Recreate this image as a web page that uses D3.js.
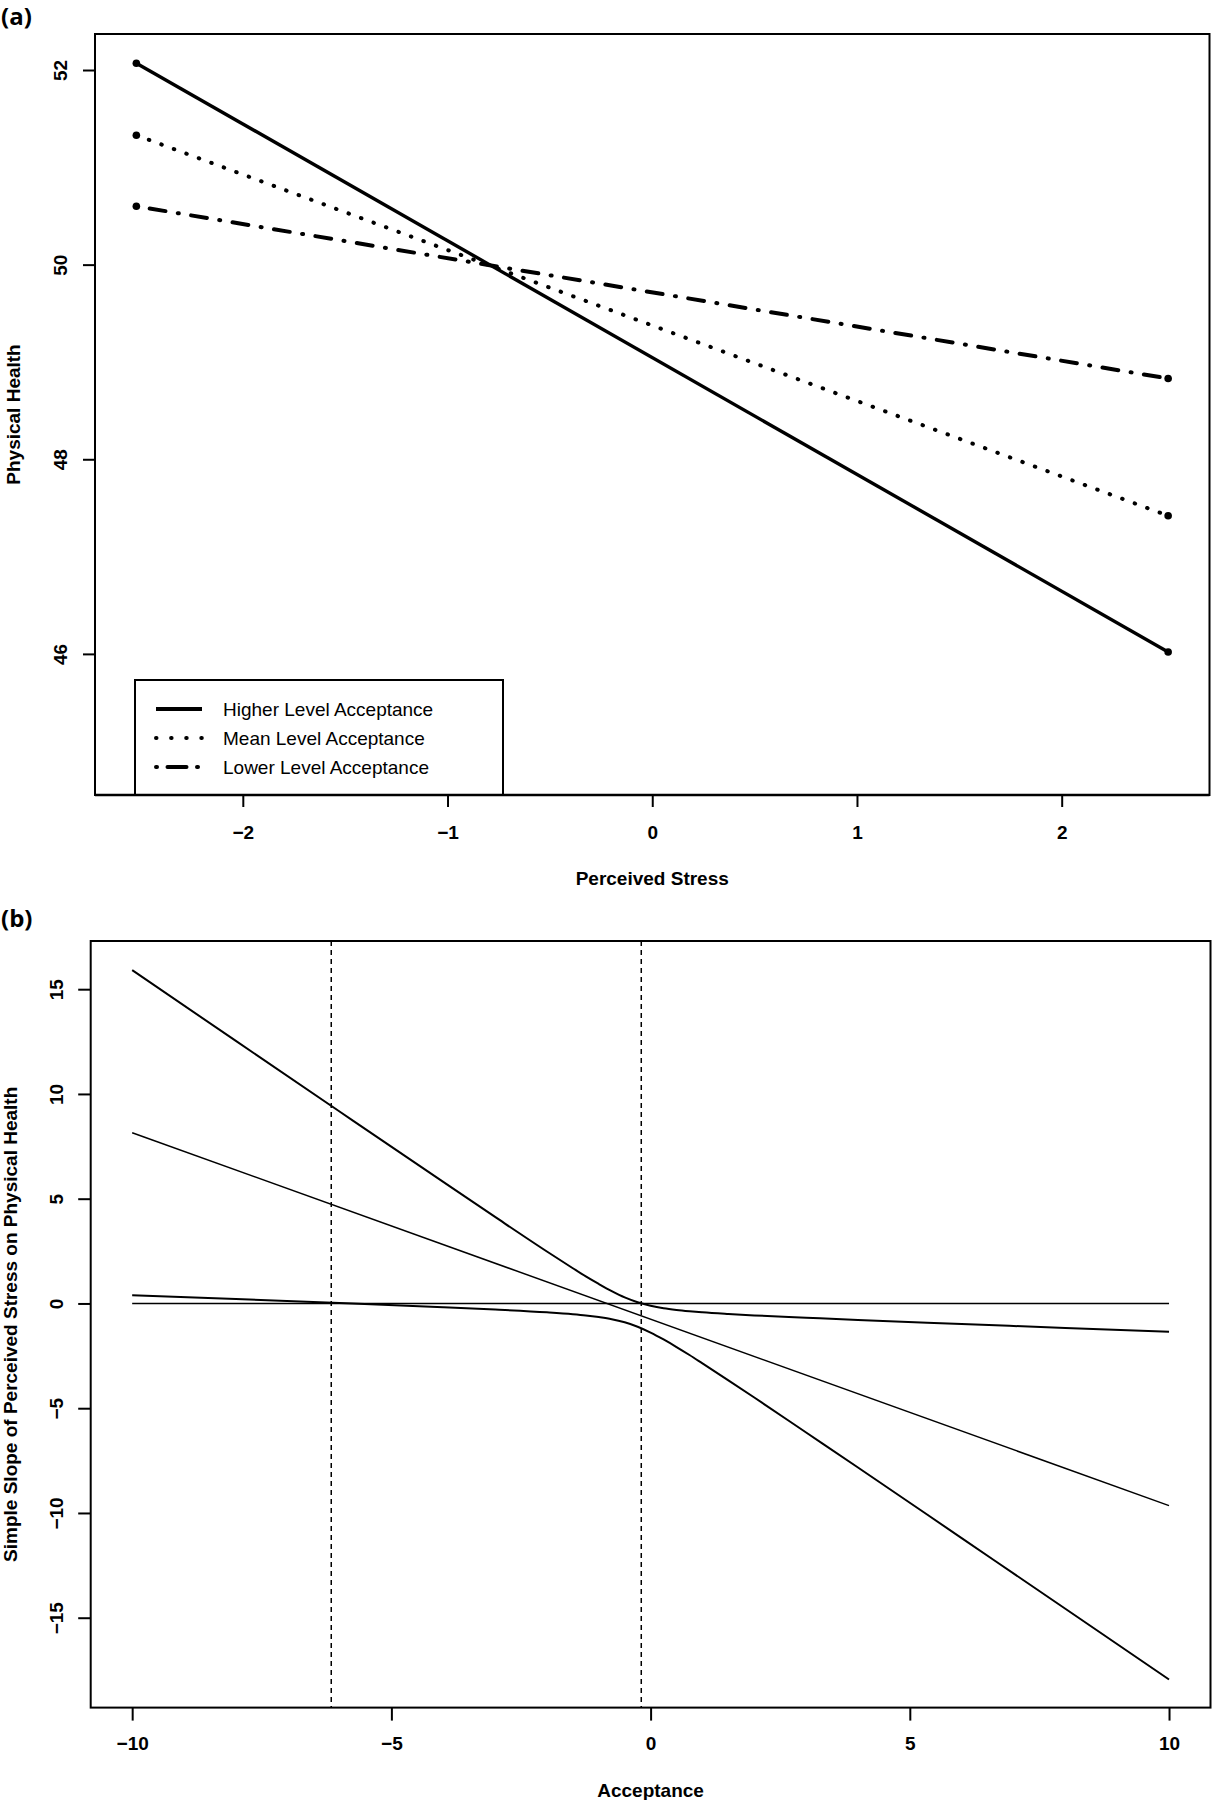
<!DOCTYPE html>
<html>
<head>
<meta charset="utf-8">
<script src="https://cdn.jsdelivr.net/npm/d3@7"></script>
<style>
  html, body { margin: 0; padding: 0; background: #fff; }
  svg { display: block; }
  text { font-family: "Liberation Sans", Arial, Helvetica, sans-serif; fill: #000; }
  text.panel { font-family: "Open Sans", "Liberation Sans", Arial, sans-serif; }
</style>
</head>
<body>
<svg id="chart" width="1215" height="1800"></svg>
<script>
// ---------- Panel (a) data ----------
const stressX = [-2.52, 2.52];
const higherAcc = [52.07, 46.02];
const meanAcc = [51.33, 47.42];
const lowerAcc = [50.60, 48.83];
const seriesNamesA = ["Higher Level Acceptance", "Mean Level Acceptance", "Lower Level Acceptance"];
const xTicksA = [-2, -1, 0, 1, 2];
const yTicksA = [46, 48, 50, 52];

// ---------- Panel (b) data ----------
const accX = [-10, -8, -6, -4, -3, -2, -1.5, -1.25, -1, -0.75, -0.5, -0.25, 0, 0.25, 0.5, 0.75, 1, 1.5, 2, 3, 4, 6, 8, 10];
const upperCI = [15.91, 12.53, 9.16, 5.80, 4.13, 2.48, 1.68, 1.29, 0.93, 0.59, 0.29, 0.06, -0.11, -0.23, -0.31, -0.37, -0.42, -0.50, -0.57, -0.68, -0.79, -0.98, -1.17, -1.35];
const lowerCI = [0.39, 0.21, 0.02, -0.18, -0.29, -0.42, -0.51, -0.57, -0.65, -0.75, -0.90, -1.11, -1.39, -1.72, -2.08, -2.46, -2.86, -3.67, -4.49, -6.16, -7.83, -11.20, -14.57, -17.95];
const estX = [-10, 10];
const estSlope = [8.15, -9.65];
const zeroX = [-10, 10];
const zeroY = [0, 0];
const jnPoints = [-6.16, -0.18];
const xTicksB = [-10, -5, 0, 5, 10];
const yTicksB = [-15, -10, -5, 0, 5, 10, 15];

const svg = d3.select("#chart");
const fmt = d => (d < 0 ? "\u2212" + Math.abs(d) : String(d));

function styleAxisBottom(g, yOff) {
  g.select(".domain").remove();
  g.selectAll(".tick line").attr("stroke", "#000").attr("stroke-width", 2);
  g.selectAll(".tick text")
    .attr("y", yOff).attr("dy", 0)
    .style("font-size", "19px").style("font-weight", "bold");
}
function styleAxisLeft(g, xOff) {
  g.select(".domain").remove();
  g.selectAll(".tick line").attr("stroke", "#000").attr("stroke-width", 2);
  g.selectAll(".tick text")
    .attr("x", 0).attr("dy", 0)
    .attr("text-anchor", "middle")
    .attr("transform", `translate(${-xOff},0) rotate(-90)`)
    .style("font-size", "19px").style("font-weight", "bold");
}

// ================= Panel (a) =================
const A = { left: 95, right: 1209.5, top: 34, bottom: 795 };
const xA = d3.scaleLinear().domain([-2.722, 2.722]).range([A.left, A.right]);
const yA = d3.scaleLinear().domain([44.55, 52.37]).range([A.bottom, A.top]);

svg.append("text").attr("class", "panel").attr("x", 1).attr("y", 25)
  .style("font-size", "24px").style("font-weight", "bold").text("(a)");

svg.append("g").attr("transform", `translate(0,${A.bottom})`)
  .call(d3.axisBottom(xA).tickValues(xTicksA).tickSize(12).tickFormat(fmt))
  .call(g => styleAxisBottom(g, 43.5));
svg.append("g").attr("transform", `translate(${A.left},0)`)
  .call(d3.axisLeft(yA).tickValues(yTicksA).tickSize(12).tickFormat(fmt))
  .call(g => styleAxisLeft(g, 28));

const lineA = d3.line().x(d => xA(d[0])).y(d => yA(d[1]));
const stylesA = [
  { vals: higherAcc, dash: null },
  { vals: meanAcc, dash: "0.5 12.8" },
  { vals: lowerAcc, dash: "1 12.5 16 12.5" }
];
stylesA.forEach(s => {
  const pts = stressX.map((x, i) => [x, s.vals[i]]);
  svg.append("path").attr("d", lineA(pts))
    .attr("fill", "none").attr("stroke", "#000").attr("stroke-width", s.dash ? 4 : 3.4)
    .attr("stroke-linecap", s.dash ? "round" : "butt")
    .attr("stroke-dasharray", s.dash);
  svg.selectAll(null).data(pts).enter().append("circle")
    .attr("cx", d => xA(d[0])).attr("cy", d => yA(d[1])).attr("r", 3.8).attr("fill", "#000");
});

svg.append("rect").attr("x", A.left).attr("y", A.top)
  .attr("width", A.right - A.left).attr("height", A.bottom - A.top)
  .attr("fill", "none").attr("stroke", "#000").attr("stroke-width", 2);

// legend
const leg = svg.append("g");
leg.append("rect").attr("x", 135).attr("y", 680).attr("width", 368).attr("height", 115)
  .attr("fill", "#fff").attr("stroke", "#000").attr("stroke-width", 2);
const legRows = [709, 738, 767];
stylesA.forEach((s, i) => {
  leg.append("line").attr("x1", 156).attr("x2", 202).attr("y1", legRows[i]).attr("y2", legRows[i])
    .attr("stroke", "#000").attr("stroke-width", 4)
    .attr("stroke-linecap", s.dash ? "round" : "butt")
    .attr("stroke-dasharray", s.dash ? (i === 1 ? "0.5 14.6" : "1 10.5 19 10.5") : null);
  leg.append("text").attr("x", 223).attr("y", legRows[i] + 7)
    .style("font-size", "19px").text(seriesNamesA[i]);
});
svg.append("line").attr("x1", A.left).attr("x2", A.right).attr("y1", A.bottom).attr("y2", A.bottom)
  .attr("stroke", "#000").attr("stroke-width", 2.5);

svg.append("text").attr("x", (A.left + A.right) / 2).attr("y", 885)
  .attr("text-anchor", "middle").style("font-size", "19px").style("font-weight", "bold")
  .text("Perceived Stress");
svg.append("text").attr("transform", `translate(20,${(A.top + A.bottom) / 2}) rotate(-90)`)
  .attr("text-anchor", "middle").style("font-size", "19px").style("font-weight", "bold")
  .text("Physical Health");

// ================= Panel (b) =================
const B = { left: 90.7, right: 1210.5, top: 941, bottom: 1707.6 };
const xB = d3.scaleLinear().domain([-10.8, 10.8]).range([B.left, B.right]);
const yB = d3.scaleLinear().domain([-19.29, 17.30]).range([B.bottom, B.top]);

svg.append("text").attr("class", "panel").attr("x", 1).attr("y", 927)
  .style("font-size", "24px").style("font-weight", "bold").text("(b)");

svg.append("g").attr("transform", `translate(0,${B.bottom})`)
  .call(d3.axisBottom(xB).tickValues(xTicksB).tickSize(13).tickFormat(fmt))
  .call(g => styleAxisBottom(g, 42.5));
svg.append("g").attr("transform", `translate(${B.left},0)`)
  .call(d3.axisLeft(yB).tickValues(yTicksB).tickSize(12.5).tickFormat(fmt))
  .call(g => styleAxisLeft(g, 27.5));

const lineB = d3.line().x(d => xB(d[0])).y(d => yB(d[1]));
const smoothB = d3.line().x(d => xB(d[0])).y(d => yB(d[1])).curve(d3.curveMonotoneX);

svg.append("path").attr("d", lineB(zeroX.map((x, i) => [x, zeroY[i]])))
  .attr("fill", "none").attr("stroke", "#000").attr("stroke-width", 1.5);
svg.append("path").attr("d", lineB(estX.map((x, i) => [x, estSlope[i]])))
  .attr("fill", "none").attr("stroke", "#000").attr("stroke-width", 1.5);
[upperCI, lowerCI].forEach(arr => {
  svg.append("path").attr("d", smoothB(accX.map((x, i) => [x, arr[i]])))
    .attr("fill", "none").attr("stroke", "#000").attr("stroke-width", 2);
});
jnPoints.forEach(v => {
  svg.append("line").attr("x1", xB(v)).attr("x2", xB(v)).attr("y1", B.top).attr("y2", B.bottom)
    .attr("stroke", "#000").attr("stroke-width", 1.5).attr("stroke-dasharray", "5 4");
});

svg.append("rect").attr("x", B.left).attr("y", B.top)
  .attr("width", B.right - B.left).attr("height", B.bottom - B.top)
  .attr("fill", "none").attr("stroke", "#000").attr("stroke-width", 2);

svg.append("text").attr("x", (B.left + B.right) / 2).attr("y", 1797)
  .attr("text-anchor", "middle").style("font-size", "19px").style("font-weight", "bold")
  .text("Acceptance");
svg.append("text").attr("transform", `translate(17,${(B.top + B.bottom) / 2}) rotate(-90)`)
  .attr("text-anchor", "middle").style("font-size", "19px").style("font-weight", "bold")
  .text("Simple Slope of Perceived Stress on Physical Health");
</script>
</body>
</html>
